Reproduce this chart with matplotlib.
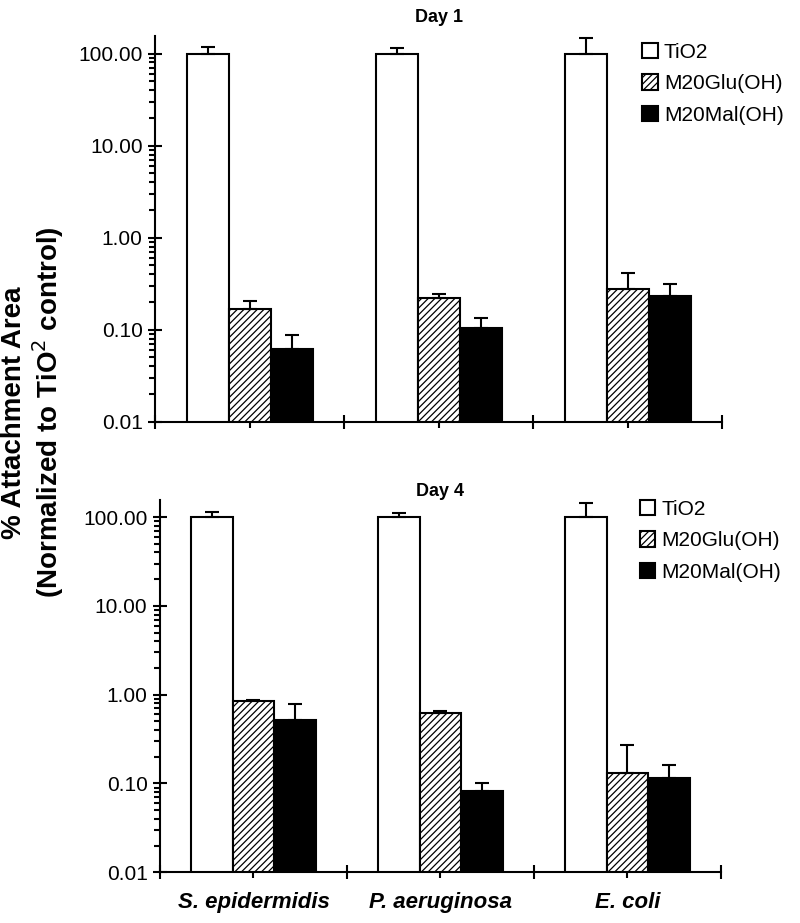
import numpy as np
import matplotlib.pyplot as plt
from matplotlib.ticker import FixedLocator, NullFormatter, FuncFormatter

plt.rcParams['font.family'] = ['Liberation Sans', 'DejaVu Sans']
plt.rcParams['hatch.linewidth'] = 0.9

bacteria = ["S. epidermidis", "P. aeruginosa", "E. coli"]
series = ["TiO2", "M20Glu(OH)", "M20Mal(OH)"]

# Day 1 (mean, upper error)
day1_tio2 = [100.0, 100.0, 100.0]
day1_tio2_err = [17.0, 15.0, 48.0]
day1_glu = [0.17, 0.22, 0.28]
day1_glu_err = [0.033, 0.025, 0.13]
day1_mal = [0.062, 0.105, 0.23]
day1_mal_err = [0.026, 0.028, 0.08]

# Day 4
day4_tio2 = [100.0, 100.0, 100.0]
day4_tio2_err = [13.0, 12.0, 45.0]
day4_glu = [0.85, 0.63, 0.13]
day4_glu_err = [0.03, 0.02, 0.14]
day4_mal = [0.52, 0.083, 0.115]
day4_mal_err = [0.27, 0.017, 0.045]

fig = plt.figure(figsize=(8, 9.23), dpi=100)


def panel(ax, title, vals, errs, leg_y, title_pad):
    x = np.arange(len(bacteria))
    w = 0.222
    styles = [dict(color="white", hatch=None),
              dict(color="white", hatch="/////"),
              dict(color="black", hatch=None)]
    for k in range(3):
        ax.bar(x + (k - 1) * w, vals[k], w, label=series[k],
               facecolor=styles[k]["color"], edgecolor="black",
               linewidth=1.5, hatch=styles[k]["hatch"],
               yerr=[np.zeros(3), errs[k]],
               error_kw=dict(ecolor="black", elinewidth=1.5, capsize=5, capthick=1.5),
               zorder=2)
    ax.set_yscale("log")
    ax.set_ylim(0.01, 155)
    ax.set_xlim(-0.5, 2.5)
    ax.spines["top"].set_visible(False)
    ax.spines["right"].set_visible(False)
    ax.spines["left"].set_linewidth(1.5)
    ax.spines["bottom"].set_linewidth(1.5)
    ax.yaxis.set_major_locator(FixedLocator([0.01, 0.1, 1, 10, 100]))
    ax.yaxis.set_major_formatter(FuncFormatter(lambda v, p: "%.2f" % v))
    minors = [m * 10.0 ** e for e in range(-2, 2) for m in range(2, 10)]
    ax.yaxis.set_minor_locator(FixedLocator(minors))
    ax.yaxis.set_minor_formatter(NullFormatter())
    ax.tick_params(axis="y", which="major", direction="inout", length=10, width=1.5,
                   labelsize=15, pad=4)
    ax.tick_params(axis="y", which="minor", direction="out", length=4, width=1.5)
    ax.xaxis.set_major_locator(FixedLocator([-0.5, 0.5, 1.5, 2.5]))
    ax.xaxis.set_major_formatter(NullFormatter())
    ax.xaxis.set_minor_locator(FixedLocator(x))
    ax.tick_params(axis="x", which="major", direction="inout", length=10, width=1.5)
    ax.tick_params(axis="x", which="minor", direction="out", length=4, width=1.5,
                   labelsize=16, pad=10)
    ax.set_title(title, fontsize=13, fontweight="bold", pad=title_pad)
    ax.legend(loc="upper right", bbox_to_anchor=(1.13, leg_y), frameon=False,
              fontsize=15, handlelength=0.75, handleheight=0.75, handletextpad=0.3,
              labelspacing=0.6, borderaxespad=0.2)


ax1 = fig.add_axes([0.194, 0.543, 0.709, 0.418])
panel(ax1, "Day 1", [day1_tio2, day1_glu, day1_mal],
      [day1_tio2_err, day1_glu_err, day1_mal_err], 1.015, 10)
ax1.xaxis.set_minor_formatter(NullFormatter())

ax2 = fig.add_axes([0.2, 0.055, 0.701, 0.403])
panel(ax2, "Day 4", [day4_tio2, day4_glu, day4_mal],
      [day4_tio2_err, day4_glu_err, day4_mal_err], 1.035, 2)
ax2.set_xticks(np.arange(3), bacteria, minor=True, fontweight="bold", style="italic")

fig.text(0.042, 0.553, "% Attachment Area\n(Normalized to TiO$^2$ control)",
         rotation=90, ha="center", va="center", fontsize=20, fontweight="bold",
         multialignment="center", linespacing=1.1)

fig.savefig("out.png", dpi=100)
